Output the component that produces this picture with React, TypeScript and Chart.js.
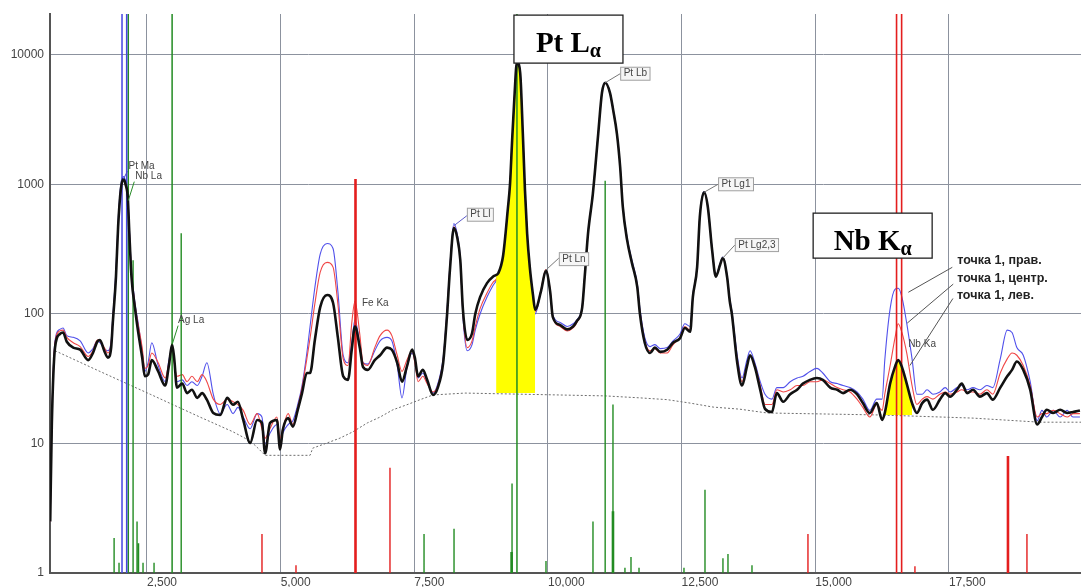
import { useEffect, useRef } from 'react';
import { Chart, registerables } from 'chart.js';

Chart.register(...registerables);

// ---------- spectrum data (energy in eV, counts) ----------
const energyEv = [
  690, 720, 780, 870, 930, 1000, 1120, 1250, 1400, 1490,
  1570, 1620, 1700, 1770, 1830, 1860, 1920, 1960, 2010, 2060,
  2100, 2140, 2170, 2210, 2280, 2330, 2410, 2460, 2520, 2590,
  2710, 2840, 2910, 2970, 3010, 3060, 3160, 3250, 3340, 3440,
  3530, 3620, 3740, 3870, 4000, 4110, 4200, 4300, 4430, 4560,
  4650, 4710, 4800, 4930, 4990, 5040, 5140, 5230, 5320, 5400,
  5490, 5550, 5640, 5740, 5870, 5980, 6070, 6170, 6260, 6330,
  6390, 6480, 6540, 6630, 6760, 6860, 6990, 7080, 7180, 7270,
  7360, 7460, 7510, 7570, 7660, 7740, 7850, 7940, 8040, 8110,
  8170, 8240, 8300, 8360, 8410, 8490, 8580, 8640, 8730, 8860,
  8970, 9030, 9070, 9160, 9250, 9290, 9330, 9370, 9420, 9480,
  9530, 9570, 9610, 9660, 9720, 9760, 9870, 9960, 10040, 10090,
  10230, 10360, 10470, 10540, 10640, 10690, 10750, 10840, 10940, 11010,
  11070, 11160, 11220, 11290, 11350, 11400, 11480, 11570, 11670, 11720,
  11810, 11910, 12000, 12100, 12230, 12340, 12470, 12560, 12660, 12710,
  12790, 12840, 12920, 12990, 13070, 13140, 13220, 13270, 13350, 13400,
  13440, 13540, 13630, 13720, 13780, 13870, 13970, 14060, 14190, 14280,
  14400, 14530, 14660, 14770, 14900, 15030, 15140, 15280, 15410, 15520,
  15650, 15780, 15890, 16020, 16150, 16250, 16300, 16400, 16490, 16550,
  16620, 16710, 16810, 16900, 17000, 17090, 17200, 17330, 17430, 17520,
  17650, 17740, 17840, 17950, 18080, 18210, 18320, 18460, 18590, 18680,
  18770, 18890, 19020, 19150, 19240, 19330, 19450, 19580, 19710, 19820, 19950,
];

// "точка 1, лев." (black)
const countsLeft = [
  2.5, 14, 55, 70, 72, 61, 55, 53, 44, 50,
  61, 63, 52, 46, 55, 85, 194, 470, 910, 1100,
  1000, 800, 420, 194, 107, 75, 46, 33, 34, 44,
  36, 28, 40, 58, 45, 27, 29, 24.5, 26, 22.5,
  24.5, 21.8, 17.2, 16.6, 22.5, 19.9, 21, 15.2, 10.1, 15.2,
  14.4, 8.4, 14.4, 15.2, 9, 12.7, 15.7, 13.5, 18.2, 24.5,
  35, 35, 63, 113, 140, 122, 66, 33, 31, 53,
  80, 55, 39, 37, 44, 48, 55, 53, 42, 30,
  39, 53, 46, 33, 37, 31, 23.7, 27, 42, 95,
  230, 460, 395, 261, 107, 63, 71, 100, 135, 173,
  194, 200, 206, 280, 650, 1000, 2200, 4500, 8800, 7300,
  2460, 900, 420, 230, 140, 108, 150, 215, 150, 95,
  82, 76, 80, 88, 112, 200, 420, 850, 2460, 5100,
  6100, 5100, 3750, 2460, 1370, 670, 373, 248, 162, 100,
  60, 50, 55, 51, 53, 60, 65, 78, 73, 135,
  230, 560, 870, 670, 312, 194, 240, 270, 194, 126,
  100, 42, 28, 39, 48, 39, 26, 18.5, 17.5, 24.5,
  21, 24, 26, 29, 31, 32, 31, 27, 26, 24.5,
  26, 24, 20.5, 17.2, 20.5, 15.2, 17.2, 29, 39, 44,
  39, 29, 20.5, 17.2, 20.5, 21.8, 18.2, 21.8, 24.5, 23,
  26, 29, 24.5, 26, 23, 24.5, 21.8, 27, 33, 37,
  43, 37, 26, 14, 16, 18.2, 17.2, 18.2, 17.2, 17.5, 18,
];

// "точка 1, центр." (red)
const countsCenter = [
  2.5, 15, 60, 74, 75, 66, 60, 56, 47, 52,
  63, 62, 55, 50, 60, 90, 200, 480, 930, 1080,
  980, 780, 440, 210, 115, 85, 55, 38, 40, 50,
  42, 32, 42, 56, 42, 33, 34, 30, 33, 30,
  34, 30, 22, 20, 22, 21, 20, 18, 14, 17,
  13, 11, 13, 16, 11, 13, 17, 14, 19, 27,
  45, 65, 120, 210, 250, 230, 120, 45, 40, 85,
  125, 70, 42, 40, 55, 68, 75, 68, 48, 36,
  44, 52, 42, 30, 33, 29, 25, 28, 44, 100,
  240, 470, 400, 260, 100, 55, 62, 80, 110, 145,
  175, 185, 200, 280, 650, 1000, 2200, 4500, 8700, 7200,
  2460, 900, 420, 230, 138, 104, 155, 220, 155, 95,
  80, 74, 78, 86, 112, 200, 420, 850, 2460, 5100,
  6050, 5050, 3700, 2450, 1370, 670, 375, 250, 165, 105,
  62, 52, 54, 50, 50, 58, 66, 80, 75, 135,
  230, 560, 860, 670, 315, 196, 240, 268, 196, 128,
  100, 45, 30, 40, 48, 40, 28, 20, 20, 26,
  25, 26, 28, 28, 30, 30, 31, 29, 27, 26,
  25, 22, 19, 16, 20, 18, 24, 40, 65, 84,
  72, 50, 28, 20, 22, 23, 22, 24, 25, 24,
  25, 26, 25, 25, 24, 26, 24, 35, 45, 50,
  48, 40, 28, 16, 17, 17, 18, 17, 16, 17, 17,
];

// "точка 1, прав." (blue)
const countsRight = [
  2.5, 15, 62, 76, 78, 68, 66, 62, 50, 54,
  62, 60, 54, 52, 62, 95, 220, 520, 1000, 1150,
  1050, 820, 460, 220, 118, 88, 52, 36, 42, 60,
  40, 30, 44, 55, 44, 30, 31, 28, 30, 28,
  33, 42, 24, 17, 20, 17, 19, 16, 13, 17,
  16, 10, 12, 14, 10, 12, 14, 15, 20, 28,
  50, 80, 160, 290, 350, 320, 150, 48, 42, 60,
  90, 58, 42, 41, 52, 62, 66, 62, 40, 22.5,
  38, 50, 44, 32, 35, 30, 24.5, 29, 46, 105,
  250, 500, 420, 270, 95, 52, 58, 75, 100, 135,
  165, 180, 195, 280, 650, 1000, 2200, 4500, 8900, 7400,
  2460, 900, 420, 230, 136, 100, 150, 215, 150, 98,
  86, 80, 84, 90, 115, 205, 430, 870, 2500, 5150,
  6150, 5150, 3800, 2500, 1400, 690, 390, 260, 172, 110,
  66, 56, 58, 54, 55, 62, 70, 84, 80, 140,
  235, 570, 880, 680, 320, 200, 245, 275, 200, 132,
  105, 48, 32, 44, 52, 42, 30, 24, 22, 27,
  27, 30, 32, 33, 36, 38, 35, 30, 29, 28,
  27, 25, 22, 18, 22, 22, 44, 110, 155, 158,
  135, 85, 45, 24, 24, 26, 24, 25, 27, 25,
  27, 28, 26, 27, 26, 28, 27, 45, 75, 72,
  55, 48, 30, 15, 18, 16, 18, 16, 18, 16, 16,
];

// continuum background (dotted)
const backgroundEv = [780, 1620, 2560, 3490, 4110, 4330, 4520, 4710, 5550, 5600, 5870, 6110, 6350, 6620, 6860, 7100, 7360, 7610, 7850, 8450, 11070, 11720, 12230, 12660, 13090, 13590, 14100, 16210, 17950, 19200, 19970];
const backgroundCounts = [52, 36, 24, 16, 12.3, 11, 9.7, 8.1, 8.1, 9.2, 10.1, 11, 12.3, 14.4, 16, 18.2, 19.9, 21.8, 23.7, 24.5, 23.3, 22.5, 21.8, 20.5, 19.1, 18.4, 17.2, 16.6, 15.7, 14.6, 14.6];

// integration windows (yellow): [from, to, base level]
const windowPtLa = [9030, 9760, 24.5];
const windowNbKa = [16300, 16810, 16.6];

// element marker lines
const Y_MIN = 1;
const Y_MAX = 20700;
const blueMarkerEv = [2033, 2120];
const greenMarkerEv = [2150, 2970, 9420];
const redMarkerEv = [16520, 16615];
const greenLineEv = [2240, 3140, 11070, 1885, 1977, 2314, 2342, 2426, 2632, 7682, 8243, 9328, 9963, 10842, 11216, 11440, 11553, 11703, 12544, 12937, 13273, 13367, 13816];
const greenLineHeight = [260, 420, 1070, 1.86, 1.2, 2.5, 1.7, 1.2, 1.2, 2.0, 2.2, 4.9, 1.24, 2.5, 20, 1.1, 1.33, 1.1, 1.1, 4.4, 1.3, 1.4, 1.15];
const greenThickEv = [9320, 11216];
const greenThickHeight = [1.45, 3.0];
const redLineEv = [4651, 5287, 7045, 14863, 16864, 18959];
const redLineHeight = [2.0, 1.15, 6.5, 2.0, 1.13, 2.0];
const redThickEv = [6400, 18604];
const redThickHeight = [1100, 8.0];

// axes
const X_MIN = 686;
const X_MAX = 19970;
const xTickValues = [2500, 5000, 7500, 10000, 12500, 15000, 17500];
const yTickValues = [1, 10, 100, 1000, 10000];

// annotations (anchored on data points, offsets in px)
const peakLabels = [
  { text: 'Pt Ma', e: 2060, v: 1100, dx: 5, dy: -18, lx: 4, ly: -8, boxed: false, lead: 'rgb(70,70,200)' },
  { text: 'Nb La', e: 2150, v: 750, dx: 7, dy: -29, lx: 6, ly: -19, boxed: false, lead: 'rgb(40,140,40)' },
  { text: 'Ag La', e: 2970, v: 58, dx: 6, dy: -29, lx: 6, ly: -19, boxed: false, lead: 'rgb(40,140,40)' },
  { text: 'Fe Ka', e: 6390, v: 125, dx: 7, dy: -3, lx: 0, ly: 0, boxed: false, lead: '' },
  { text: 'Pt Ll', e: 8240, v: 480, dx: 13, dy: -18, lx: 13, ly: -10, boxed: true, lead: 'rgb(90,90,200)' },
  { text: 'Pt Ln', e: 9960, v: 218, dx: 13, dy: -18, lx: 13, ly: -12, boxed: true, lead: '#777' },
  { text: 'Pt Lb', e: 11070, v: 6100, dx: 15, dy: -16, lx: 15, ly: -9, boxed: true, lead: '#777' },
  { text: 'Pt Lg1', e: 12920, v: 870, dx: 14, dy: -15, lx: 14, ly: -8, boxed: true, lead: '#777' },
  { text: 'Pt Lg2,3', e: 13270, v: 270, dx: 12, dy: -20, lx: 12, ly: -13, boxed: true, lead: '#777' },
  { text: 'Nb Ka', e: 16550, v: 44, dx: 10, dy: -21, lx: 0, ly: 0, boxed: false, lead: '' },
];
const lineBoxes = [
  { main: 'Pt L', sub: 'α', e: 9420, v: 8800, dx: -3, dy: -47, w: 109, h: 48 },
  { main: 'Nb K', sub: 'α', e: 16550, v: 44, dx: -85, dy: -147, w: 119, h: 45 },
];
const seriesNotes = [
  { text: 'точка 1, прав.', e: 16740, v: 147, tx: 49, ty: -38, lx: 44, ly: -25 },
  { text: 'точка 1, центр.', e: 16720, v: 85, tx: 50, ty: -51, lx: 46, ly: -39 },
  { text: 'точка 1, лев.', e: 16770, v: 40, tx: 47, ty: -76, lx: 43, ly: -67 },
];

const SANS = '"Liberation Sans", Arial, sans-serif';
const SERIF = '"Liberation Serif", "Times New Roman", serif';
const GRID = 'rgb(140,146,158)';
const BLUE = 'rgb(80,80,235)';
const RED = 'rgb(240,70,70)';
const MBLUE = 'rgb(70,70,225)';
const MGREEN = 'rgb(35,140,35)';
const MRED = 'rgb(228,30,30)';

type Pt = { x: number; y: number | null };

function series(values: number[]): Pt[] {
  return energyEv.map((e, i) => ({ x: e, y: values[i] }));
}

function windowSeries(win: number[]): Pt[] {
  const out: Pt[] = [];
  energyEv.forEach((e, i) => {
    if (e >= win[0] && e <= win[1]) out.push({ x: e, y: countsLeft[i] });
  });
  return out;
}

function segments(ev: number[], tops: number[]): Pt[] {
  const out: Pt[] = [];
  ev.forEach((e, i) => {
    out.push({ x: e, y: Y_MIN }, { x: e, y: tops[i] }, { x: e, y: null });
  });
  return out;
}

function fullHeight(ev: number[]): number[] {
  return ev.map(() => Y_MAX);
}

const markerDs = (data: Pt[], color: string, width: number) => ({
  type: 'line' as const,
  data,
  borderColor: color,
  borderWidth: width,
  pointRadius: 0,
  tension: 0,
  spanGaps: false,
  fill: false,
  order: 1,
});

const notesPlugin = {
  id: 'spectrumNotes',
  afterDatasetsDraw(chart: any) {
    const { ctx } = chart;
    const xs = chart.scales.x;
    const ys = chart.scales.y;
    const px = (e: number) => xs.getPixelForValue(e);
    const py = (v: number) => ys.getPixelForValue(v);
    ctx.save();

    // peak labels
    ctx.font = `10px ${SANS}`;
    ctx.textBaseline = 'top';
    ctx.textAlign = 'left';
    peakLabels.forEach((l) => {
      const ax = px(l.e);
      const ay = py(l.v);
      if (l.lead) {
        ctx.strokeStyle = l.lead;
        ctx.lineWidth = 1;
        ctx.beginPath();
        ctx.moveTo(ax, ay);
        ctx.lineTo(ax + l.lx, ay + l.ly);
        ctx.stroke();
      }
      const tx = ax + l.dx;
      const ty = ay + l.dy;
      if (l.boxed) {
        const w = ctx.measureText(l.text).width + 6;
        ctx.fillStyle = 'rgb(246,246,246)';
        ctx.fillRect(tx + 0.5, ty + 0.5, w, 13);
        ctx.strokeStyle = 'rgb(160,160,160)';
        ctx.lineWidth = 1;
        ctx.strokeRect(tx + 0.5, ty + 0.5, w, 13);
        ctx.fillStyle = '#444';
        ctx.fillText(l.text, tx + 3.5, ty + 2);
      } else {
        ctx.fillStyle = '#444';
        ctx.fillText(l.text, tx, ty);
      }
    });

    // series notes
    ctx.font = `bold 12.5px ${SANS}`;
    seriesNotes.forEach((n) => {
      const ax = px(n.e);
      const ay = py(n.v);
      ctx.strokeStyle = '#555';
      ctx.lineWidth = 1;
      ctx.beginPath();
      ctx.moveTo(ax, ay);
      ctx.lineTo(ax + n.lx, ay + n.ly);
      ctx.stroke();
      ctx.fillStyle = '#222';
      ctx.fillText(n.text, ax + n.tx, ay + n.ty);
    });

    // big line boxes
    lineBoxes.forEach((b) => {
      const bx = px(b.e) + b.dx;
      const by = py(b.v) + b.dy;
      ctx.fillStyle = '#fff';
      ctx.fillRect(bx, by, b.w, b.h);
      ctx.strokeStyle = '#222';
      ctx.lineWidth = 1.3;
      ctx.strokeRect(bx, by, b.w, b.h);
      ctx.textBaseline = 'alphabetic';
      ctx.font = `bold 29px ${SERIF}`;
      const mw = ctx.measureText(b.main).width;
      ctx.font = `bold 20px ${SERIF}`;
      const sw = ctx.measureText(b.sub).width;
      const start = bx + (b.w - mw - sw) / 2;
      ctx.fillStyle = '#000';
      ctx.font = `bold 29px ${SERIF}`;
      ctx.fillText(b.main, start, by + 37);
      ctx.font = `bold 20px ${SERIF}`;
      ctx.fillText(b.sub, start + mw, by + 42);
    });

    ctx.restore();
  },
};

export default function App() {
  const ref = useRef<HTMLCanvasElement>(null);

  useEffect(() => {
    if (!ref.current) return;
    const datasets: any[] = [
      {
        type: 'line',
        label: 'точка 1, лев.',
        data: series(countsLeft),
        borderColor: '#111',
        borderWidth: 2.6,
        pointRadius: 0,
        cubicInterpolationMode: 'monotone',
        fill: false,
        order: 0,
      },
      markerDs(segments(blueMarkerEv, fullHeight(blueMarkerEv)), MBLUE, 1.5),
      markerDs(segments(greenMarkerEv, fullHeight(greenMarkerEv)), MGREEN, 1.5),
      markerDs(segments(redMarkerEv, fullHeight(redMarkerEv)), MRED, 1.6),
      markerDs(segments(greenLineEv, greenLineHeight), MGREEN, 1.4),
      markerDs(segments(greenThickEv, greenThickHeight), MGREEN, 2.6),
      markerDs(segments(redLineEv, redLineHeight), MRED, 1.4),
      markerDs(segments(redThickEv, redThickHeight), MRED, 2.6),
      {
        type: 'line',
        data: windowSeries(windowPtLa),
        borderWidth: 0,
        borderColor: 'rgba(0,0,0,0)',
        backgroundColor: 'rgb(255,255,0)',
        pointRadius: 0,
        cubicInterpolationMode: 'monotone',
        fill: { value: windowPtLa[2] },
        order: 2,
      },
      {
        type: 'line',
        data: windowSeries(windowNbKa),
        borderWidth: 0,
        borderColor: 'rgba(0,0,0,0)',
        backgroundColor: 'rgb(255,255,0)',
        pointRadius: 0,
        cubicInterpolationMode: 'monotone',
        fill: { value: windowNbKa[2] },
        order: 2,
      },
      {
        type: 'line',
        label: 'точка 1, центр.',
        data: series(countsCenter),
        borderColor: RED,
        borderWidth: 1.1,
        pointRadius: 0,
        cubicInterpolationMode: 'monotone',
        fill: false,
        order: 3,
      },
      {
        type: 'line',
        label: 'точка 1, прав.',
        data: series(countsRight),
        borderColor: BLUE,
        borderWidth: 1.1,
        pointRadius: 0,
        cubicInterpolationMode: 'monotone',
        fill: false,
        order: 4,
      },
      {
        type: 'line',
        data: backgroundEv.map((e, i) => ({ x: e, y: backgroundCounts[i] })),
        borderColor: 'rgb(110,110,110)',
        borderWidth: 1,
        borderDash: [2, 2],
        pointRadius: 0,
        tension: 0,
        fill: false,
        order: 5,
      },
    ];

    const chart = new Chart(ref.current, {
      type: 'line',
      data: { datasets },
      options: {
        animation: false,
        responsive: false,
        devicePixelRatio: 1,
        maintainAspectRatio: false,
        layout: { padding: { top: 14, left: 0, right: 0, bottom: 0 } },
        plugins: {
          legend: { display: false },
          tooltip: { enabled: false },
        },
        scales: {
          x: {
            type: 'linear',
            min: X_MIN,
            max: X_MAX,
            afterBuildTicks: (s: any) => {
              s.ticks = xTickValues.map((value) => ({ value }));
            },
            afterFit: (s: any) => {
              s.height = 14;
            },
            ticks: {
              autoSkip: false,
              maxRotation: 0,
              align: 'start',
              padding: 2,
              color: '#444',
              font: { family: SANS, size: 12 },
              callback: (v: any) => Number(v).toLocaleString('en-US'),
            },
            grid: { color: GRID, lineWidth: 1, drawTicks: false },
            border: { display: true, color: '#555', width: 2 },
          },
          y: {
            type: 'logarithmic',
            min: Y_MIN,
            max: Y_MAX,
            afterBuildTicks: (s: any) => {
              s.ticks = yTickValues.map((value) => ({ value }));
            },
            afterFit: (s: any) => {
              s.width = 50;
            },
            ticks: {
              autoSkip: false,
              padding: 6,
              color: '#444',
              font: { family: SANS, size: 12 },
              callback: (v: any) => String(v),
            },
            grid: { color: GRID, lineWidth: 1, drawTicks: false },
            border: { display: true, color: '#555', width: 2 },
          },
        },
      },
      plugins: [notesPlugin],
    } as any);

    return () => chart.destroy();
  }, []);

  return (
    <div style={{ position: 'absolute', left: 0, top: 0, width: 1081, height: 587, background: '#fff' }}>
      <canvas ref={ref} width={1081} height={587} style={{ width: 1081, height: 587, display: 'block' }} />
    </div>
  );
}
